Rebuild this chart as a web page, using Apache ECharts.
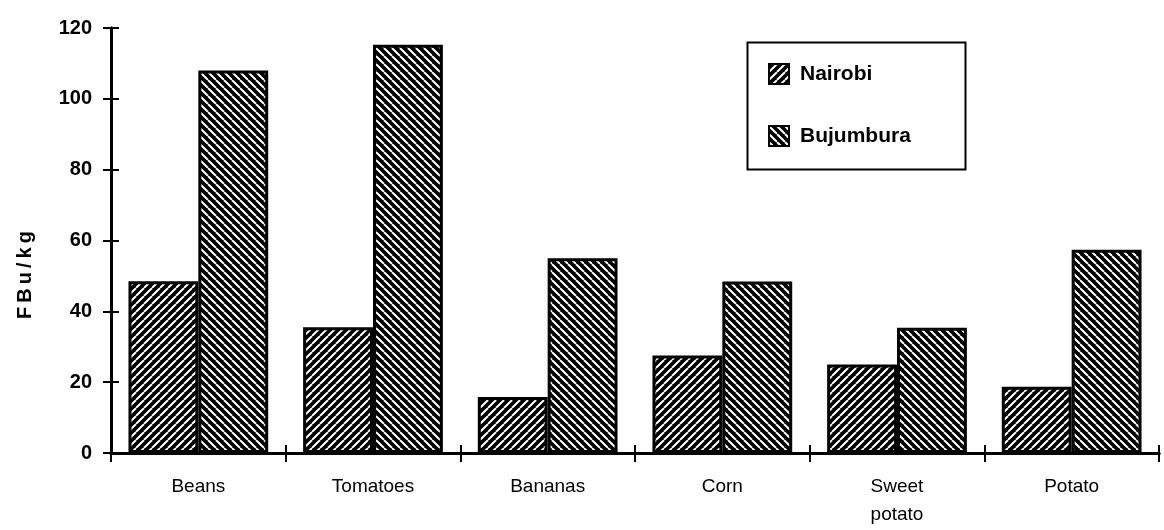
<!DOCTYPE html>
<html><head><meta charset="utf-8">
<script src="https://cdn.jsdelivr.net/npm/echarts@6/dist/echarts.min.js"></script>
<style>html,body{margin:0;padding:0;background:#fff}#c{width:1164px;height:530px}</style>
</head><body><div id="c"></div>
<script>
var categories = ['Beans', 'Tomatoes', 'Bananas', 'Corn', 'Sweet\npotato', 'Potato'];
var nairobi = [48.5, 35.5, 15.8, 27.5, 25, 18.7];
var bujumbura = [108, 115.3, 55, 48.4, 35.4, 57.4];
var yTicks = [0, 20, 40, 60, 80, 100, 120];

function hatch(dir) {
  var s = 8, c = document.createElement('canvas');
  c.width = s; c.height = s;
  var g = c.getContext('2d');
  g.fillStyle = '#000'; g.fillRect(0, 0, s, s);
  g.strokeStyle = '#fff'; g.lineWidth = 2;
  g.beginPath();
  if (dir > 0) {
    for (var k = -1; k <= 1; k++) { g.moveTo(k * s, s); g.lineTo(k * s + s, 0); }
  } else {
    for (var k = -1; k <= 1; k++) { g.moveTo(k * s, 0); g.lineTo(k * s + s, s); }
  }
  g.stroke();
  return {image: c, repeat: 'repeat'};
}

var font = '"Liberation Sans", Arial, Helvetica, sans-serif';
var chart = echarts.init(document.getElementById('c'), null, {renderer: 'canvas'});
var axisLine = {show: true, lineStyle: {color: '#000', width: 3}};
var gridBox = {left: 111, right: 5, top: 28, bottom: 77, containLabel: false};
chart.setOption({
  animation: false,
  grid: [gridBox, Object.assign({}, gridBox)],
  legend: {
    orient: 'vertical', left: 763, top: 58, itemGap: 40,
    itemWidth: 20, itemHeight: 20, icon: 'rect',
    textStyle: {fontFamily: font, fontSize: 21, fontWeight: 'bold', color: '#000', padding: [0, 0, 0, 6]},
    data: ['Nairobi', 'Bujumbura']
  },
  graphic: [{
    type: 'rect', left: 745, top: 40, shape: {width: 218, height: 127},
    style: {fill: 'none', stroke: '#000', lineWidth: 2}, z: 10
  }, {
    type: 'text', x: 25, y: 275, rotation: Math.PI / 2,
    style: {text: 'F\u2009B\u2009u\u2009/\u2009k\u2009g', font: 'bold 20px ' + font, fill: '#000',
      align: 'center', verticalAlign: 'middle'}
  }],
  xAxis: [{
    type: 'category', data: categories, gridIndex: 0,
    axisLine: axisLine,
    axisTick: {show: true, length: 9, lineStyle: {color: '#000', width: 2}},
    axisLabel: {color: '#000', fontFamily: font, fontSize: 19, margin: 20, lineHeight: 28}
  }, {
    type: 'category', data: categories, gridIndex: 1, position: 'bottom',
    axisLine: {show: true, onZero: false, lineStyle: {color: '#000', width: 3}},
    axisTick: {show: true, inside: true, length: 8, lineStyle: {color: '#000', width: 2}},
    axisLabel: {show: false}
  }],
  yAxis: [{
    type: 'value', min: 0, max: 120, interval: 20, gridIndex: 0,
    axisLine: axisLine,
    axisTick: {show: true, length: 8, lineStyle: {color: '#000', width: 2}},
    splitLine: {show: false},
    axisLabel: {color: '#000', fontFamily: font, fontSize: 20, fontWeight: 'bold', margin: 19,
      formatter: function (v) { return yTicks.indexOf(v) >= 0 ? String(v) : ''; }}
  }, {
    type: 'value', min: 0, max: 120, interval: 20, gridIndex: 1, position: 'left',
    axisLine: {show: true, onZero: false, lineStyle: {color: '#000', width: 3}},
    axisTick: {show: true, inside: true, length: 8, lineStyle: {color: '#000', width: 2}},
    splitLine: {show: false}, axisLabel: {show: false}
  }],
  series: [{
    name: 'Nairobi', type: 'bar', data: nairobi, barWidth: '40%', barGap: '0%',
    itemStyle: {color: hatch(1), borderColor: '#000', borderWidth: 3}
  }, {
    name: 'Bujumbura', type: 'bar', data: bujumbura, barWidth: '40%', barGap: '0%',
    itemStyle: {color: hatch(-1), borderColor: '#000', borderWidth: 3}
  }, {
    name: 'ticks', type: 'line', xAxisIndex: 1, yAxisIndex: 1, data: [], silent: true
  }]
});
</script></body></html>
